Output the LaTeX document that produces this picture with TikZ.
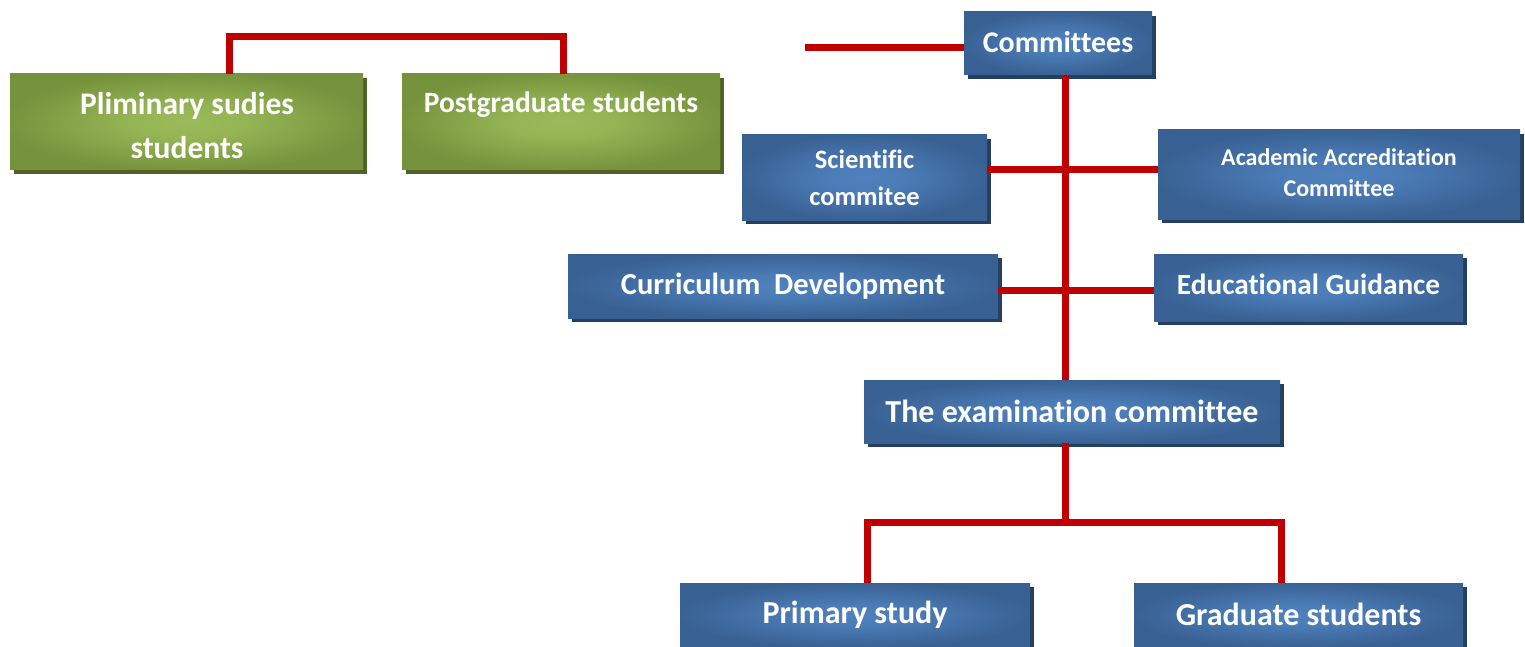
\documentclass[tikz,border=0pt]{standalone}
\usepackage{fontspec}
\setmainfont[Ligatures=NoCommon]{Carlito}
\usetikzlibrary{shadows}
\definecolor{bluein}{HTML}{4F81BD}
\definecolor{blueout}{HTML}{386092}
\definecolor{blueshadow}{HTML}{243F60}
\definecolor{greenin}{HTML}{9BBB59}
\definecolor{greenout}{HTML}{76923C}
\definecolor{greenshadow}{HTML}{4F6228}
\definecolor{linkred}{HTML}{C00000}
\pgfdeclareradialshading{blueglow}{\pgfpoint{0bp}{0bp}}{color(0bp)=(bluein); color(8bp)=(bluein!85!blueout); color(26bp)=(blueout); color(50bp)=(blueout)}
\pgfdeclareradialshading{greenglow}{\pgfpoint{0bp}{0bp}}{color(0bp)=(greenin); color(8bp)=(greenin!85!greenout); color(26bp)=(greenout); color(50bp)=(greenout)}
\tikzset{
  bluebox/.style={shading=blueglow, draw=none, inner sep=0pt, text=white, font=\bfseries, align=center,
    drop shadow={shadow xshift=4pt, shadow yshift=-4pt, fill=blueshadow, opacity=1}},
  greenbox/.style={shading=greenglow, draw=none, inner sep=0pt, text=white, font=\bfseries, align=center,
    drop shadow={shadow xshift=4pt, shadow yshift=-4pt, fill=greenshadow, opacity=1}},
  boxtext/.style={text=white, align=center, inner sep=0pt},
  link/.style={draw=linkred, line width=7pt}
}
\newcommand{\fs}[2]{\bfseries\fontsize{#1}{#2}\selectfont}
\begin{document}
\begin{tikzpicture}[x=1pt,y=-1pt]
\useasboundingbox[fill=white] (0,0) rectangle (1525,647);
% nodes
\node[greenbox, minimum width=353pt, minimum height=96pt] (pl) at (186.5,122) {};
\node[boxtext, font=\fs{31.5}{44}] at (187,126) {Pliminary sudies\\students};
\node[greenbox, minimum width=318pt, minimum height=96pt] (pg) at (561,122) {};
\node[boxtext, font=\fs{29.5}{34}] at (561,105) {Postgraduate students};
\node[bluebox, minimum width=188pt, minimum height=63pt, font=\fs{30}{34}] (com) at (1058,43.5) {\raisebox{4pt}{Committees}};
\node[bluebox, minimum width=245pt, minimum height=85pt, font=\fs{26.5}{37}] (sci) at (864.5,177.5) {Scientific\\commitee};
\node[bluebox, minimum width=362pt, minimum height=89pt, font=\fs{24}{33}] (aca) at (1339,174.5) {\raisebox{3pt}{\begin{tabular}{@{}c@{}}Academic Accreditation\\[-2pt]Committee\end{tabular}}};
\node[bluebox, minimum width=430pt, minimum height=64pt, font=\fs{30.5}{34}] (cur) at (783,286) {\raisebox{-1pt}{Curriculum\ \ Development}};
\node[bluebox, minimum width=309pt, minimum height=67pt, font=\fs{29.3}{34}] (edu) at (1308.5,287.5) {\raisebox{7pt}{Educational Guidance}};
\node[bluebox, minimum width=416pt, minimum height=63pt, font=\fs{32}{34}] (exam) at (1072,411.5) {\raisebox{1pt}{The examination committee}};
\node[bluebox, minimum width=350pt, minimum height=64pt, font=\fs{32}{34}] (pri) at (855,615) {\raisebox{1pt}{Primary study}};
\node[bluebox, minimum width=329pt, minimum height=64pt, font=\fs{32}{34}] (gra) at (1298.5,615) {\raisebox{1pt}{Graduate students}};
% helper coordinates
\coordinate (top) at (0,37);
\coordinate (vx) at (1065,0);
\coordinate (free) at (805,48);
\coordinate (h1) at (0,170);
\coordinate (h2) at (0,290);
\coordinate (h3) at (0,522);
\coordinate (px) at (229,0);
\coordinate (gx) at (563,0);
\coordinate (prx) at (867,0);
\coordinate (grx) at (1281,0);
% links
\draw[link] (pl.north -| px) -- (top -| px) -- (top -| gx) -- (pg.north -| gx);
\draw[link] (free) -- (com.west |- free);
\draw[link] (com.south -| vx) -- (exam.north -| vx);
\draw[link] (sci.east |- h1) -- (aca.west |- h1);
\draw[link] (cur.east |- h2) -- (edu.west |- h2);
\draw[link] (exam.south -| vx) -- (h3 -| vx);
\draw[link] (pri.north -| prx) -- (h3 -| prx) -- (h3 -| grx) -- (gra.north -| grx);
\end{tikzpicture}
\end{document}
